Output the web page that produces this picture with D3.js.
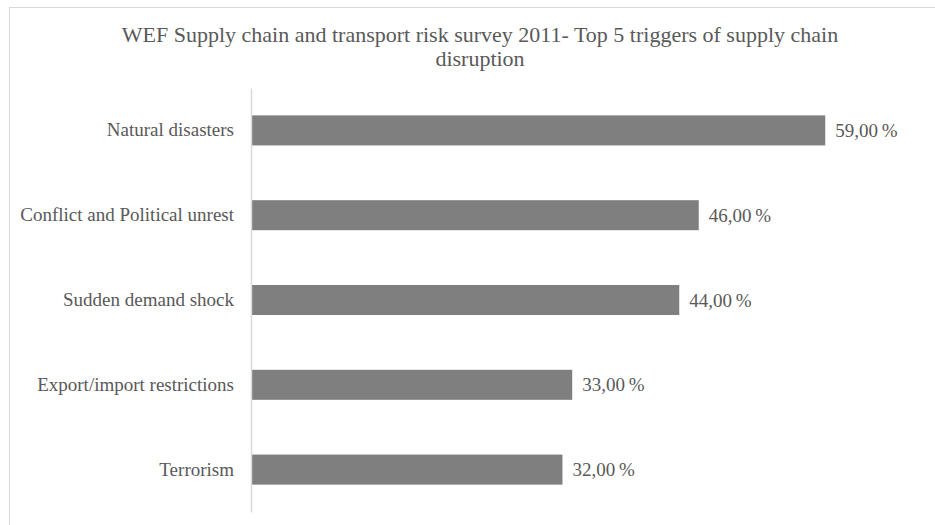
<!DOCTYPE html>
<html><head><meta charset="utf-8">
<script src="https://cdn.jsdelivr.net/npm/d3@7"></script>
<style>html,body{margin:0;padding:0;background:#fff;}svg{display:block;}</style>
</head><body>
<svg id="c" width="935" height="525"></svg>
<script>
const categories = ["Natural disasters","Conflict and Political unrest","Sudden demand shock","Export/import restrictions","Terrorism"];
const values = [59, 46, 44, 33, 32];
const titleLines = ["WEF Supply chain and transport risk survey 2011- Top 5 triggers of supply chain","disruption"];

const svg = d3.select("#c");
const font = "'Liberation Serif','Times New Roman',serif";
const textColor = "#595959";

// chart frame
svg.append("rect").attr("x",9.5).attr("y",7.5).attr("width",960).attr("height",540)
  .attr("fill","#fff").attr("stroke","#d9d9d9").attr("stroke-width",1);

// title
svg.append("text").attr("x",480).attr("y",42).attr("text-anchor","middle")
  .attr("font-family",font).attr("font-size",22).attr("fill",textColor)
  .selectAll("tspan").data(titleLines).join("tspan")
  .attr("x",480).attr("dy",(d,i)=>i?24:0).text(d=>d);

const x = d3.scaleLinear().domain([0,60]).range([251,835]);
const y = d3.scaleBand().domain(categories).range([88,512]).paddingInner(0.646).paddingOuter(0.323);

svg.selectAll("rect.bar").data(categories).join("rect").attr("class","bar")
  .attr("x",x(0)).attr("y",d=>y(d)).attr("width",(d,i)=>x(values[i])-x(0))
  .attr("height",y.bandwidth()).attr("fill","#7f7f7f");

// axis
const ax = svg.append("g").attr("transform",`translate(${x(0)},0)`).call(d3.axisLeft(y).tickSize(0).tickPadding(17));
ax.select(".domain").attr("stroke","#d9d9d9").attr("stroke-width",1.5);
ax.selectAll("text").attr("font-family",font).attr("font-size",19).attr("fill",textColor);

const fmt = v => d3.format(".2f")(v).replace(".",",") + "\u2009%";
svg.selectAll("text.val").data(categories).join("text").attr("class","val")
  .attr("x",(d,i)=>x(values[i])+10).attr("y",d=>y(d)+y.bandwidth()/2).attr("dy","0.35em")
  .attr("font-family",font).attr("font-size",19).attr("fill",textColor)
  .text((d,i)=>fmt(values[i]));
</script>
</body></html>
